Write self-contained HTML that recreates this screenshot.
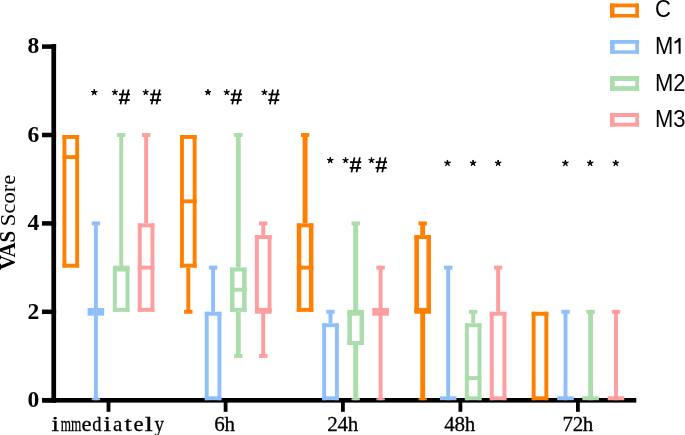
<!DOCTYPE html>
<html><head><meta charset="utf-8"><style>
html,body{margin:0;padding:0;background:#fff;}
body{width:685px;height:435px;overflow:hidden;position:relative;font-family:"Liberation Sans",sans-serif;}
svg{position:absolute;left:0;top:0;display:block;will-change:transform;}
</style></head><body>
<svg width="685" height="435" viewBox="0 0 685 435"><g><rect x="51.4" y="44.1" width="4.70" height="358.50" fill="#000"/><rect x="42.0" y="397.95" width="14.10" height="4.5" fill="#000"/><rect x="42.0" y="309.55" width="14.10" height="4.5" fill="#000"/><rect x="42.0" y="221.15" width="14.10" height="4.5" fill="#000"/><rect x="42.0" y="132.75" width="14.10" height="4.5" fill="#000"/><rect x="42.0" y="44.35" width="14.10" height="4.5" fill="#000"/><rect x="42.4" y="398.0" width="593.90" height="4.6" fill="#000"/><rect x="106.60" y="400" width="3.8" height="11.8" fill="#000"/><rect x="223.70" y="400" width="3.8" height="11.8" fill="#000"/><rect x="341.00" y="400" width="3.8" height="11.8" fill="#000"/><rect x="458.50" y="400" width="3.8" height="11.8" fill="#000"/><rect x="576.00" y="400" width="3.8" height="11.8" fill="#000"/><rect x="62.50" y="135.00" width="3.90" height="132.60" fill="#ff8000"/><rect x="75.20" y="135.00" width="3.90" height="132.60" fill="#ff8000"/><rect x="62.50" y="135.00" width="16.60" height="3.90" fill="#ff8000"/><rect x="62.50" y="263.70" width="16.60" height="3.90" fill="#ff8000"/><rect x="62.50" y="155.15" width="16.60" height="3.90" fill="#ff8000"/><rect x="93.95" y="223.40" width="3.90" height="88.40" fill="#8ebffb"/><rect x="91.70" y="221.45" width="8.40" height="3.90" fill="#8ebffb"/><rect x="93.95" y="311.80" width="3.90" height="88.40" fill="#8ebffb"/><rect x="91.70" y="398.25" width="8.40" height="1.95" fill="#8ebffb"/><rect x="87.60" y="307.90" width="16.60" height="7.80" fill="#8ebffb"/><rect x="119.25" y="135.00" width="3.90" height="132.60" fill="#abdcab"/><rect x="117.00" y="133.05" width="8.40" height="3.90" fill="#abdcab"/><rect x="112.90" y="267.60" width="3.90" height="44.20" fill="#abdcab"/><rect x="125.60" y="267.60" width="3.90" height="44.20" fill="#abdcab"/><rect x="112.90" y="267.60" width="16.60" height="3.90" fill="#abdcab"/><rect x="112.90" y="307.90" width="16.60" height="3.90" fill="#abdcab"/><rect x="112.90" y="265.65" width="16.60" height="3.90" fill="#abdcab"/><rect x="144.15" y="135.00" width="3.90" height="88.40" fill="#ff9e9e"/><rect x="141.90" y="133.05" width="8.40" height="3.90" fill="#ff9e9e"/><rect x="137.80" y="223.40" width="3.90" height="88.40" fill="#ff9e9e"/><rect x="150.50" y="223.40" width="3.90" height="88.40" fill="#ff9e9e"/><rect x="137.80" y="223.40" width="16.60" height="3.90" fill="#ff9e9e"/><rect x="137.80" y="307.90" width="16.60" height="3.90" fill="#ff9e9e"/><rect x="137.80" y="265.65" width="16.60" height="3.90" fill="#ff9e9e"/><rect x="186.35" y="267.60" width="3.90" height="44.20" fill="#ff8000"/><rect x="184.10" y="309.85" width="8.40" height="3.90" fill="#ff8000"/><rect x="180.00" y="135.00" width="3.90" height="132.60" fill="#ff8000"/><rect x="192.70" y="135.00" width="3.90" height="132.60" fill="#ff8000"/><rect x="180.00" y="135.00" width="16.60" height="3.90" fill="#ff8000"/><rect x="180.00" y="263.70" width="16.60" height="3.90" fill="#ff8000"/><rect x="180.00" y="199.35" width="16.60" height="3.90" fill="#ff8000"/><rect x="211.15" y="267.60" width="3.90" height="44.20" fill="#8ebffb"/><rect x="208.90" y="265.65" width="8.40" height="3.90" fill="#8ebffb"/><rect x="204.80" y="311.80" width="3.90" height="88.40" fill="#8ebffb"/><rect x="217.50" y="311.80" width="3.90" height="88.40" fill="#8ebffb"/><rect x="204.80" y="311.80" width="16.60" height="3.90" fill="#8ebffb"/><rect x="204.80" y="396.30" width="16.60" height="3.90" fill="#8ebffb"/><rect x="235.90" y="135.00" width="4.80" height="132.60" fill="#abdcab"/><rect x="234.10" y="133.05" width="8.40" height="3.90" fill="#abdcab"/><rect x="235.90" y="311.80" width="4.80" height="44.20" fill="#abdcab"/><rect x="234.10" y="354.05" width="8.40" height="3.90" fill="#abdcab"/><rect x="230.00" y="267.60" width="4.50" height="44.20" fill="#abdcab"/><rect x="242.10" y="267.60" width="4.50" height="44.20" fill="#abdcab"/><rect x="230.00" y="267.60" width="16.60" height="3.90" fill="#abdcab"/><rect x="230.00" y="307.90" width="16.60" height="3.90" fill="#abdcab"/><rect x="230.00" y="287.75" width="16.60" height="3.90" fill="#abdcab"/><rect x="261.25" y="223.40" width="3.90" height="11.71" fill="#ff9e9e"/><rect x="259.00" y="221.45" width="8.40" height="3.90" fill="#ff9e9e"/><rect x="261.25" y="311.80" width="3.90" height="44.20" fill="#ff9e9e"/><rect x="259.00" y="354.05" width="8.40" height="3.90" fill="#ff9e9e"/><rect x="254.90" y="235.11" width="3.90" height="76.69" fill="#ff9e9e"/><rect x="267.60" y="235.11" width="3.90" height="76.69" fill="#ff9e9e"/><rect x="254.90" y="235.11" width="16.60" height="3.90" fill="#ff9e9e"/><rect x="254.90" y="307.90" width="16.60" height="3.90" fill="#ff9e9e"/><rect x="254.90" y="309.85" width="16.60" height="3.90" fill="#ff9e9e"/><rect x="302.65" y="135.00" width="4.90" height="88.40" fill="#ff8000"/><rect x="300.90" y="133.05" width="8.40" height="3.90" fill="#ff8000"/><rect x="296.80" y="223.40" width="4.50" height="88.40" fill="#ff8000"/><rect x="308.90" y="223.40" width="4.50" height="88.40" fill="#ff8000"/><rect x="296.80" y="223.40" width="16.60" height="3.90" fill="#ff8000"/><rect x="296.80" y="307.90" width="16.60" height="3.90" fill="#ff8000"/><rect x="296.80" y="265.65" width="16.60" height="3.90" fill="#ff8000"/><rect x="328.55" y="311.80" width="3.90" height="11.49" fill="#8ebffb"/><rect x="326.30" y="309.85" width="8.40" height="3.90" fill="#8ebffb"/><rect x="322.20" y="323.29" width="3.90" height="76.91" fill="#8ebffb"/><rect x="334.90" y="323.29" width="3.90" height="76.91" fill="#8ebffb"/><rect x="322.20" y="323.29" width="16.60" height="3.90" fill="#8ebffb"/><rect x="322.20" y="396.30" width="16.60" height="3.90" fill="#8ebffb"/><rect x="353.25" y="223.40" width="4.90" height="88.40" fill="#abdcab"/><rect x="351.50" y="221.45" width="8.40" height="3.90" fill="#abdcab"/><rect x="353.25" y="344.95" width="4.90" height="55.25" fill="#abdcab"/><rect x="351.50" y="398.25" width="8.40" height="1.95" fill="#abdcab"/><rect x="347.40" y="311.80" width="4.50" height="33.15" fill="#abdcab"/><rect x="359.50" y="311.80" width="4.50" height="33.15" fill="#abdcab"/><rect x="347.40" y="311.80" width="16.60" height="3.90" fill="#abdcab"/><rect x="347.40" y="341.05" width="16.60" height="3.90" fill="#abdcab"/><rect x="347.40" y="309.85" width="16.60" height="3.90" fill="#abdcab"/><rect x="378.65" y="267.60" width="3.90" height="44.20" fill="#ff9e9e"/><rect x="376.40" y="265.65" width="8.40" height="3.90" fill="#ff9e9e"/><rect x="378.65" y="311.80" width="3.90" height="88.40" fill="#ff9e9e"/><rect x="376.40" y="398.25" width="8.40" height="1.95" fill="#ff9e9e"/><rect x="372.30" y="307.90" width="16.60" height="7.80" fill="#ff9e9e"/><rect x="420.25" y="223.40" width="4.90" height="11.71" fill="#ff8000"/><rect x="418.50" y="221.45" width="8.40" height="3.90" fill="#ff8000"/><rect x="420.25" y="311.80" width="4.90" height="88.40" fill="#ff8000"/><rect x="418.50" y="398.25" width="8.40" height="1.95" fill="#ff8000"/><rect x="414.40" y="235.11" width="4.50" height="76.69" fill="#ff8000"/><rect x="426.50" y="235.11" width="4.50" height="76.69" fill="#ff8000"/><rect x="414.40" y="235.11" width="16.60" height="3.90" fill="#ff8000"/><rect x="414.40" y="307.90" width="16.60" height="3.90" fill="#ff8000"/><rect x="414.40" y="309.85" width="16.60" height="3.90" fill="#ff8000"/><rect x="446.25" y="267.60" width="3.90" height="132.60" fill="#8ebffb"/><rect x="444.00" y="265.65" width="8.40" height="3.90" fill="#8ebffb"/><rect x="439.90" y="396.30" width="16.60" height="3.90" fill="#8ebffb"/><rect x="471.25" y="311.80" width="3.90" height="11.49" fill="#abdcab"/><rect x="469.00" y="309.85" width="8.40" height="3.90" fill="#abdcab"/><rect x="464.90" y="323.29" width="3.90" height="76.91" fill="#abdcab"/><rect x="477.60" y="323.29" width="3.90" height="76.91" fill="#abdcab"/><rect x="464.90" y="323.29" width="16.60" height="3.90" fill="#abdcab"/><rect x="464.90" y="396.30" width="16.60" height="3.90" fill="#abdcab"/><rect x="464.90" y="376.15" width="16.60" height="3.90" fill="#abdcab"/><rect x="496.15" y="267.60" width="3.90" height="44.20" fill="#ff9e9e"/><rect x="493.90" y="265.65" width="8.40" height="3.90" fill="#ff9e9e"/><rect x="489.80" y="311.80" width="3.90" height="88.40" fill="#ff9e9e"/><rect x="502.50" y="311.80" width="3.90" height="88.40" fill="#ff9e9e"/><rect x="489.80" y="311.80" width="16.60" height="3.90" fill="#ff9e9e"/><rect x="489.80" y="396.30" width="16.60" height="3.90" fill="#ff9e9e"/><rect x="531.70" y="311.80" width="3.90" height="88.40" fill="#ff8000"/><rect x="544.40" y="311.80" width="3.90" height="88.40" fill="#ff8000"/><rect x="531.70" y="311.80" width="16.60" height="3.90" fill="#ff8000"/><rect x="531.70" y="396.30" width="16.60" height="3.90" fill="#ff8000"/><rect x="563.55" y="311.80" width="3.90" height="88.40" fill="#8ebffb"/><rect x="561.30" y="309.85" width="8.40" height="3.90" fill="#8ebffb"/><rect x="557.20" y="396.30" width="16.60" height="3.90" fill="#8ebffb"/><rect x="588.20" y="311.80" width="4.80" height="88.40" fill="#abdcab"/><rect x="586.40" y="309.85" width="8.40" height="3.90" fill="#abdcab"/><rect x="582.30" y="396.30" width="16.60" height="3.90" fill="#abdcab"/><rect x="614.05" y="311.80" width="3.90" height="88.40" fill="#ff9e9e"/><rect x="611.80" y="309.85" width="8.40" height="3.90" fill="#ff9e9e"/><rect x="607.70" y="396.30" width="16.60" height="3.90" fill="#ff9e9e"/><polygon points="94.25,89.21 94.81,91.63 97.29,91.42 95.16,92.70 96.13,94.99 94.25,93.37 92.37,94.99 93.34,92.70 91.21,91.42 93.69,91.63" fill="#000" stroke="#000" stroke-width="1.0" stroke-linejoin="round"/><path d="M114.90,92.40L114.90,89.30M114.90,92.40L117.85,91.44M114.90,92.40L116.72,94.90M114.90,92.40L113.08,94.90M114.90,92.40L111.95,91.44" stroke="#000" stroke-width="1.3" fill="none"/><circle cx="114.90" cy="92.40" r="1.1" fill="#000"/><path d="M123.46,89.50L120.51,104.40M128.65,89.50L125.34,104.40M119.09,94.31L130.00,94.31M118.80,100.05L129.71,100.05" stroke="#000" stroke-width="1.7" fill="none"/><path d="M145.70,92.40L145.70,89.30M145.70,92.40L148.65,91.44M145.70,92.40L147.52,94.90M145.70,92.40L143.88,94.90M145.70,92.40L142.75,91.44" stroke="#000" stroke-width="1.3" fill="none"/><circle cx="145.70" cy="92.40" r="1.1" fill="#000"/><path d="M154.60,89.50L151.62,104.40M159.83,89.50L156.50,104.40M150.19,94.31L161.20,94.31M149.90,100.05L160.91,100.05" stroke="#000" stroke-width="1.7" fill="none"/><polygon points="207.95,89.21 208.51,91.63 210.99,91.42 208.86,92.70 209.83,94.99 207.95,93.37 206.07,94.99 207.04,92.70 204.91,91.42 207.39,91.63" fill="#000" stroke="#000" stroke-width="1.0" stroke-linejoin="round"/><path d="M226.75,92.40L226.75,89.30M226.75,92.40L229.70,91.44M226.75,92.40L228.57,94.90M226.75,92.40L224.93,94.90M226.75,92.40L223.80,91.44" stroke="#000" stroke-width="1.3" fill="none"/><circle cx="226.75" cy="92.40" r="1.1" fill="#000"/><path d="M235.28,89.50L232.26,104.40M240.61,89.50L237.22,104.40M230.80,94.31L242.00,94.31M230.50,100.05L241.70,100.05" stroke="#000" stroke-width="1.7" fill="none"/><path d="M264.45,92.40L264.45,89.30M264.45,92.40L267.40,91.44M264.45,92.40L266.27,94.90M264.45,92.40L262.63,94.90M264.45,92.40L261.50,91.44" stroke="#000" stroke-width="1.3" fill="none"/><circle cx="264.45" cy="92.40" r="1.1" fill="#000"/><path d="M272.90,89.50L269.92,104.40M278.13,89.50L274.80,104.40M268.50,94.31L279.50,94.31M268.20,100.05L279.20,100.05" stroke="#000" stroke-width="1.7" fill="none"/><polygon points="330.25,157.21 330.81,159.63 333.29,159.42 331.16,160.70 332.13,162.99 330.25,161.37 328.37,162.99 329.34,160.70 327.21,159.42 329.69,159.63" fill="#000" stroke="#000" stroke-width="1.0" stroke-linejoin="round"/><path d="M345.55,160.35L345.55,157.25M345.55,160.35L348.50,159.39M345.55,160.35L347.37,162.85M345.55,160.35L343.73,162.85M345.55,160.35L342.60,159.39" stroke="#000" stroke-width="1.3" fill="none"/><circle cx="345.55" cy="160.35" r="1.1" fill="#000"/><path d="M354.52,157.40L351.47,172.30M359.89,157.40L356.48,172.30M350.01,162.22L361.30,162.22M349.70,167.95L360.99,167.95" stroke="#000" stroke-width="1.7" fill="none"/><path d="M371.50,160.35L371.50,157.25M371.50,160.35L374.45,159.39M371.50,160.35L373.32,162.85M371.50,160.35L369.68,162.85M371.50,160.35L368.55,159.39" stroke="#000" stroke-width="1.3" fill="none"/><circle cx="371.50" cy="160.35" r="1.1" fill="#000"/><path d="M380.28,157.40L377.26,172.30M385.61,157.40L382.22,172.30M375.81,162.22L387.00,162.22M375.50,167.95L386.69,167.95" stroke="#000" stroke-width="1.7" fill="none"/><polygon points="447.50,159.96 448.06,162.38 450.54,162.17 448.41,163.45 449.38,165.74 447.50,164.12 445.62,165.74 446.59,163.45 444.46,162.17 446.94,162.38" fill="#000" stroke="#000" stroke-width="1.0" stroke-linejoin="round"/><polygon points="473.10,159.96 473.66,162.38 476.14,162.17 474.01,163.45 474.98,165.74 473.10,164.12 471.22,165.74 472.19,163.45 470.06,162.17 472.54,162.38" fill="#000" stroke="#000" stroke-width="1.0" stroke-linejoin="round"/><polygon points="498.15,159.96 498.71,162.38 501.19,162.17 499.06,163.45 500.03,165.74 498.15,164.12 496.27,165.74 497.24,163.45 495.11,162.17 497.59,162.38" fill="#000" stroke="#000" stroke-width="1.0" stroke-linejoin="round"/><polygon points="565.40,159.96 565.96,162.38 568.44,162.17 566.31,163.45 567.28,165.74 565.40,164.12 563.52,165.74 564.49,163.45 562.36,162.17 564.84,162.38" fill="#000" stroke="#000" stroke-width="1.0" stroke-linejoin="round"/><polygon points="590.20,159.96 590.76,162.38 593.24,162.17 591.11,163.45 592.08,165.74 590.20,164.12 588.32,165.74 589.29,163.45 587.16,162.17 589.64,162.38" fill="#000" stroke="#000" stroke-width="1.0" stroke-linejoin="round"/><polygon points="615.75,159.96 616.31,162.38 618.79,162.17 616.66,163.45 617.63,165.74 615.75,164.12 613.87,165.74 614.84,163.45 612.71,162.17 615.19,162.38" fill="#000" stroke="#000" stroke-width="1.0" stroke-linejoin="round"/><rect x="610.0" y="3.5" width="28.90" height="3.80" fill="#ff8000"/><rect x="610.0" y="14.0" width="28.90" height="3.50" fill="#ff8000"/><rect x="610.0" y="3.5" width="4.60" height="14.00" fill="#ff8000"/><rect x="635.3" y="3.5" width="3.60" height="14.00" fill="#ff8000"/><text transform="translate(654.9,17.10) scale(1,1.05)" font-family="Liberation Sans" font-size="22" fill="#000">C</text><rect x="610.0" y="40.0" width="28.90" height="3.80" fill="#8ebffb"/><rect x="610.0" y="50.3" width="28.90" height="3.50" fill="#8ebffb"/><rect x="610.0" y="40.0" width="4.60" height="13.80" fill="#8ebffb"/><rect x="635.3" y="40.0" width="3.60" height="13.80" fill="#8ebffb"/><text transform="translate(654.9,53.80) scale(1,1.05)" font-family="Liberation Sans" font-size="22" fill="#000">M</text><path d="M679.6,37.90L679.6,53.80M679.6,38.40C678.6,40.60 676.8,42.00 674.6,42.80" stroke="#000" stroke-width="2.0" fill="none"/><rect x="610.0" y="76.0" width="28.90" height="5.00" fill="#abdcab"/><rect x="610.0" y="86.1" width="28.90" height="4.70" fill="#abdcab"/><rect x="610.0" y="76.0" width="4.60" height="14.80" fill="#abdcab"/><rect x="635.3" y="76.0" width="3.60" height="14.80" fill="#abdcab"/><text transform="translate(654.9,90.50) scale(1,1.05)" font-family="Liberation Sans" font-size="22" fill="#000">M2</text><rect x="610.0" y="113.0" width="28.90" height="4.00" fill="#ff9e9e"/><rect x="610.0" y="122.7" width="28.90" height="3.90" fill="#ff9e9e"/><rect x="610.0" y="113.0" width="4.60" height="13.60" fill="#ff9e9e"/><rect x="635.3" y="113.0" width="3.60" height="13.60" fill="#ff9e9e"/><text transform="translate(654.9,126.60) scale(1,1.05)" font-family="Liberation Sans" font-size="22" fill="#000">M3</text><text transform="translate(39.2,407.10) scale(1.05,1)" text-anchor="end" font-family="Liberation Serif" font-weight="bold" font-size="22.5" fill="#000">0</text><text transform="translate(39.2,318.70) scale(1.05,1)" text-anchor="end" font-family="Liberation Serif" font-weight="bold" font-size="22.5" fill="#000">2</text><text transform="translate(39.2,230.30) scale(1.05,1)" text-anchor="end" font-family="Liberation Serif" font-weight="bold" font-size="22.5" fill="#000">4</text><text transform="translate(39.2,141.90) scale(1.05,1)" text-anchor="end" font-family="Liberation Serif" font-weight="bold" font-size="22.5" fill="#000">6</text><text transform="translate(39.2,53.00) scale(1.05,1)" text-anchor="end" font-family="Liberation Serif" font-weight="bold" font-size="22.5" fill="#000">8</text><text transform="translate(55.40,431.2) scale(1.3,1)" text-anchor="middle" font-family="Liberation Serif" font-size="21" fill="#000" stroke="#000" stroke-width="0.3">i</text><text transform="translate(65.79,431.2) scale(0.63,1)" text-anchor="middle" font-family="Liberation Serif" font-size="21" fill="#000" stroke="#000" stroke-width="0.3">m</text><text transform="translate(76.18,431.2) scale(0.63,1)" text-anchor="middle" font-family="Liberation Serif" font-size="21" fill="#000" stroke="#000" stroke-width="0.3">m</text><text transform="translate(86.57,431.2) scale(1.08,1)" text-anchor="middle" font-family="Liberation Serif" font-size="21" fill="#000" stroke="#000" stroke-width="0.3">e</text><text transform="translate(96.96,431.2) scale(0.88,1)" text-anchor="middle" font-family="Liberation Serif" font-size="21" fill="#000" stroke="#000" stroke-width="0.3">d</text><text transform="translate(107.35,431.2) scale(1.3,1)" text-anchor="middle" font-family="Liberation Serif" font-size="21" fill="#000" stroke="#000" stroke-width="0.3">i</text><text transform="translate(117.74,431.2) scale(1.0,1)" text-anchor="middle" font-family="Liberation Serif" font-size="21" fill="#000" stroke="#000" stroke-width="0.3">a</text><text transform="translate(128.13,431.2) scale(1.25,1)" text-anchor="middle" font-family="Liberation Serif" font-size="21" fill="#000" stroke="#000" stroke-width="0.3">t</text><text transform="translate(138.52,431.2) scale(1.08,1)" text-anchor="middle" font-family="Liberation Serif" font-size="21" fill="#000" stroke="#000" stroke-width="0.3">e</text><text transform="translate(148.91,431.2) scale(1.4,1)" text-anchor="middle" font-family="Liberation Serif" font-size="21" fill="#000" stroke="#000" stroke-width="0.3">l</text><text transform="translate(159.30,431.2) scale(0.91,1)" text-anchor="middle" font-family="Liberation Serif" font-size="21" fill="#000" stroke="#000" stroke-width="0.3">y</text><text transform="translate(219.50,431.2) scale(1.0,1)" text-anchor="middle" font-family="Liberation Serif" font-size="21" fill="#000" stroke="#000" stroke-width="0.3">6</text><text transform="translate(229.70,431.2) scale(1.0,1)" text-anchor="middle" font-family="Liberation Serif" font-size="21" fill="#000" stroke="#000" stroke-width="0.3">h</text><text transform="translate(332.50,431.2) scale(1.0,1)" text-anchor="middle" font-family="Liberation Serif" font-size="21" fill="#000" stroke="#000" stroke-width="0.3">2</text><text transform="translate(342.70,431.2) scale(1.0,1)" text-anchor="middle" font-family="Liberation Serif" font-size="21" fill="#000" stroke="#000" stroke-width="0.3">4</text><text transform="translate(352.90,431.2) scale(1.0,1)" text-anchor="middle" font-family="Liberation Serif" font-size="21" fill="#000" stroke="#000" stroke-width="0.3">h</text><text transform="translate(449.50,431.2) scale(1.0,1)" text-anchor="middle" font-family="Liberation Serif" font-size="21" fill="#000" stroke="#000" stroke-width="0.3">4</text><text transform="translate(459.70,431.2) scale(1.0,1)" text-anchor="middle" font-family="Liberation Serif" font-size="21" fill="#000" stroke="#000" stroke-width="0.3">8</text><text transform="translate(469.90,431.2) scale(1.0,1)" text-anchor="middle" font-family="Liberation Serif" font-size="21" fill="#000" stroke="#000" stroke-width="0.3">h</text><text transform="translate(567.70,431.2) scale(1.0,1)" text-anchor="middle" font-family="Liberation Serif" font-size="21" fill="#000" stroke="#000" stroke-width="0.3">7</text><text transform="translate(577.90,431.2) scale(1.0,1)" text-anchor="middle" font-family="Liberation Serif" font-size="21" fill="#000" stroke="#000" stroke-width="0.3">2</text><text transform="translate(588.10,431.2) scale(1.0,1)" text-anchor="middle" font-family="Liberation Serif" font-size="21" fill="#000" stroke="#000" stroke-width="0.3">h</text><text transform="translate(14.9,270.0) rotate(-90) scale(0.93,1)" font-family="Liberation Serif" font-weight="bold" font-size="22.5" fill="#000">VAS</text><text transform="translate(14.9,226.2) rotate(-90) scale(1.105,1)" font-family="Liberation Serif" font-size="20.5" fill="#000">Score</text></g></svg>
</body></html>
